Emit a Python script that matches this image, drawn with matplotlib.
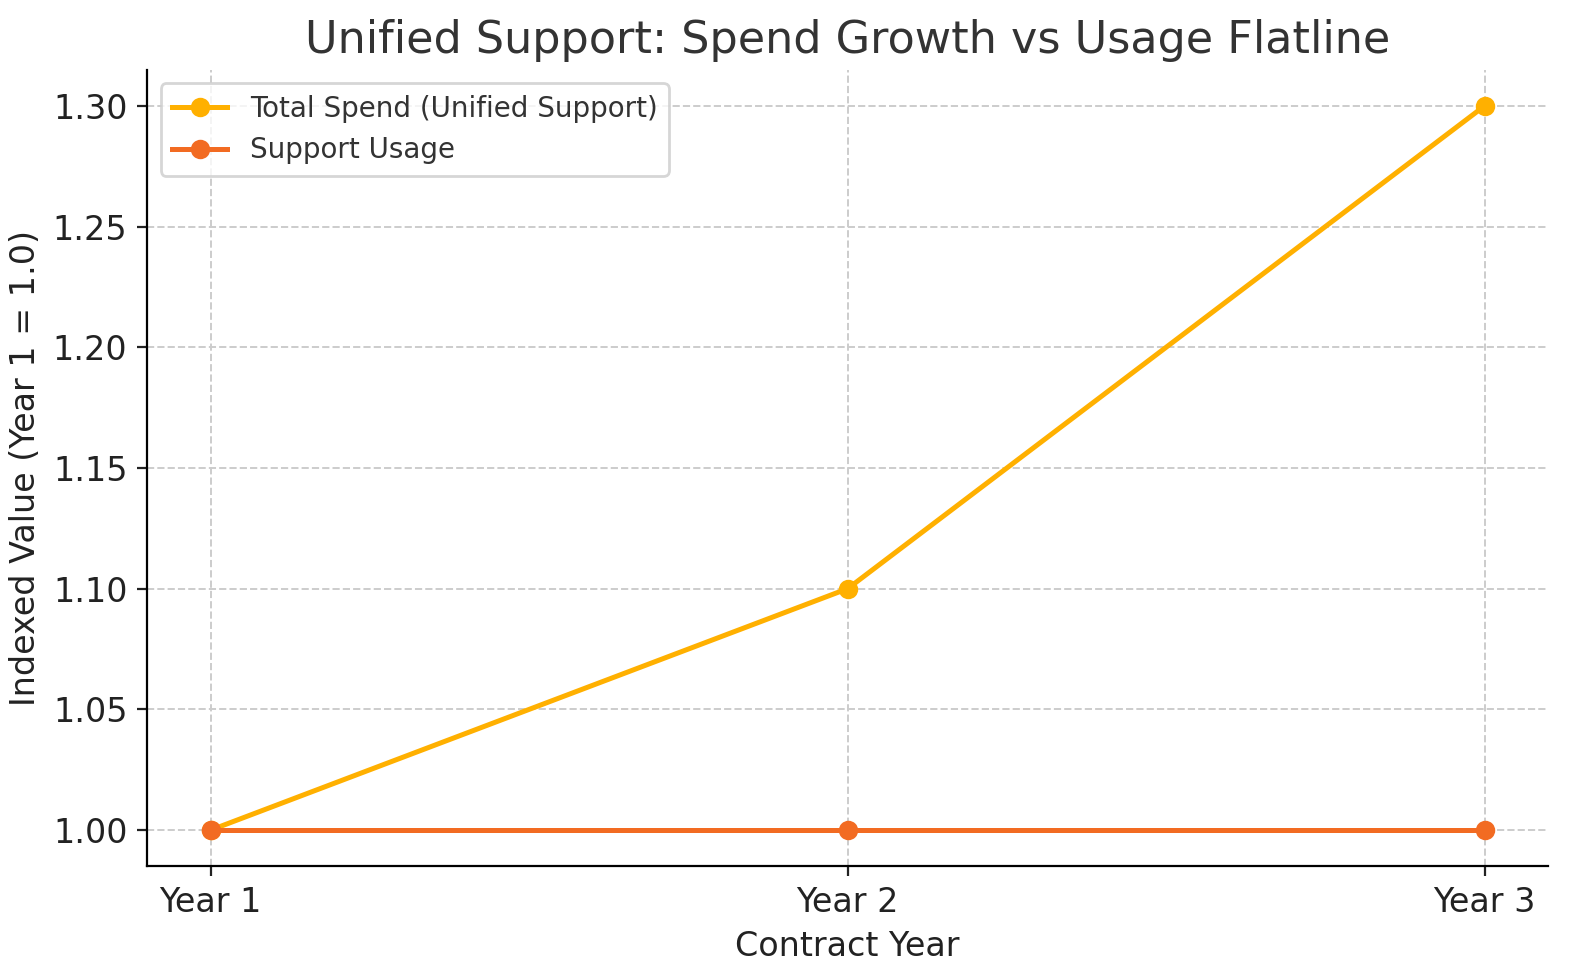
import matplotlib.pyplot as plt

years = ["Year 1", "Year 2", "Year 3"]
total_spend = [1.00, 1.10, 1.30]
support_usage = [1.00, 1.00, 1.00]

fig, ax = plt.subplots(figsize=(7.9, 4.9), dpi=200)

ax.plot(years, total_spend, marker="o", color="#FFB000", linewidth=1.8, label="Total Spend (Unified Support)")
ax.plot(years, support_usage, marker="o", color="#F26B22", linewidth=1.8, label="Support Usage")

ax.set_title("Unified Support: Spend Growth vs Usage Flatline", fontsize=16, color="#333333")
ax.set_xlabel("Contract Year", fontsize=12, color="#222222")
ax.set_ylabel("Indexed Value (Year 1 = 1.0)", fontsize=12, color="#222222")
ax.tick_params(labelsize=12, colors="#222222")
ax.yaxis.set_major_formatter(plt.FormatStrFormatter("%.2f"))
ax.grid(True, linestyle="--", color="#cccccc", linewidth=0.7)
ax.spines["top"].set_visible(False)
ax.spines["right"].set_visible(False)
ax.legend(fontsize=10, loc="upper left", labelcolor="#333333")

fig.subplots_adjust(left=0.093, right=0.98, top=0.929, bottom=0.116)
plt.savefig("out.png")
